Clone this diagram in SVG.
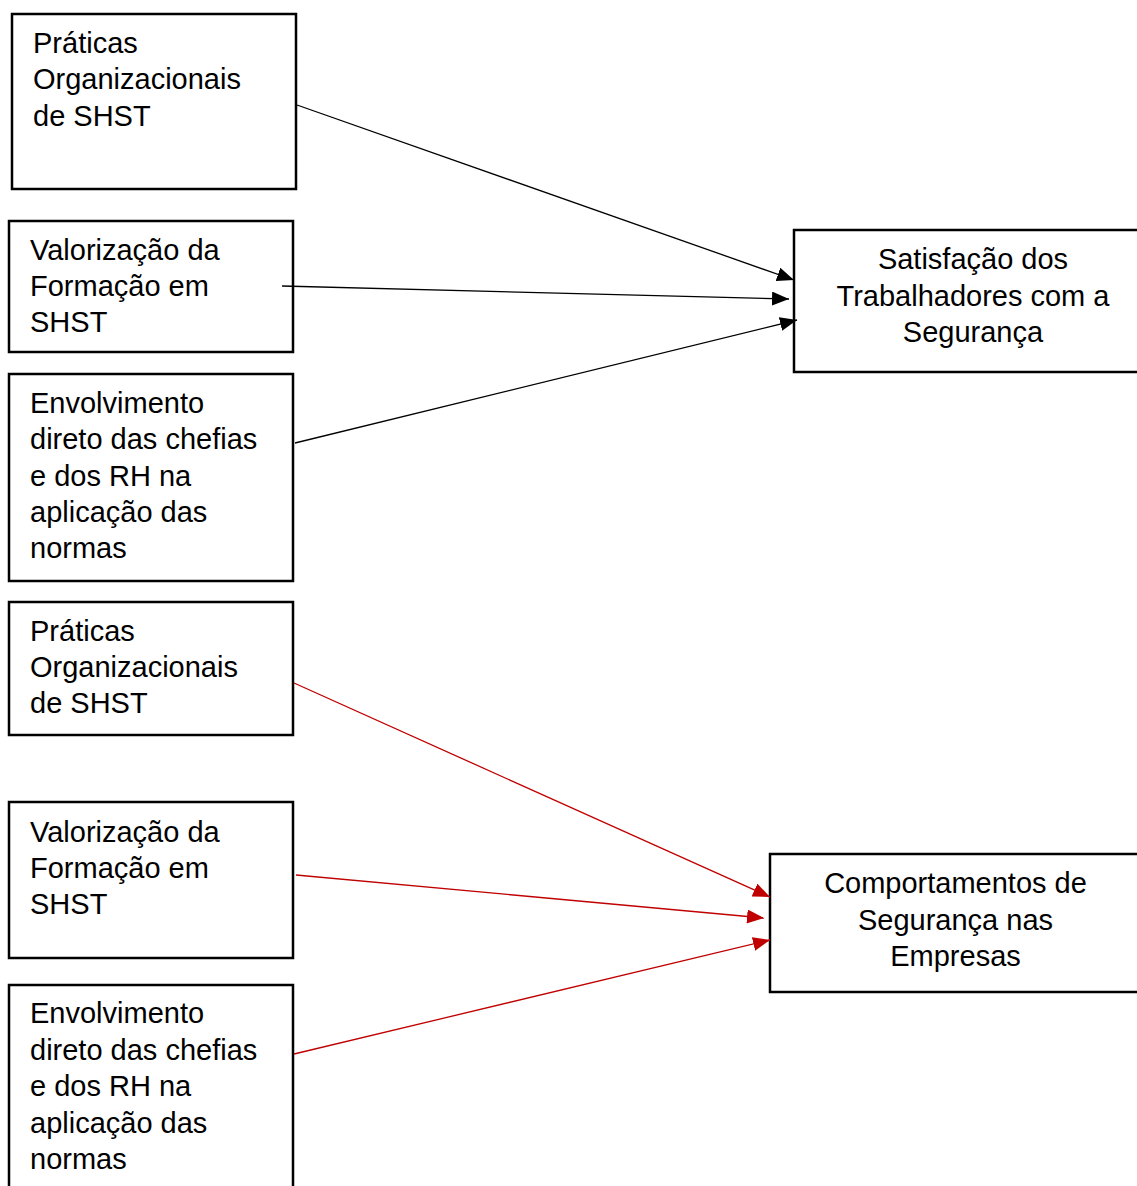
<svg xmlns="http://www.w3.org/2000/svg" width="1137" height="1186" viewBox="0 0 1137 1186">
<style>
.box{fill:#fff;stroke:#000;stroke-width:2.5}
text{font-family:"Liberation Sans",Arial,sans-serif;font-size:29px;fill:#000}
.c{text-anchor:middle}
.k{stroke:#000;stroke-width:1.3;fill:none}
.r{stroke:#C00000;stroke-width:1.3;fill:none}
</style>
<defs>
<marker id="ak" markerUnits="userSpaceOnUse" markerWidth="18" markerHeight="14" refX="17" refY="7" orient="auto"><path d="M0,0 L17,7 L0,14 Z" fill="#000"/></marker>
<marker id="ar" markerUnits="userSpaceOnUse" markerWidth="18" markerHeight="14" refX="17" refY="7" orient="auto"><path d="M0,0 L17,7 L0,14 Z" fill="#C00000"/></marker>
</defs>
<rect width="1137" height="1186" fill="#fff"/>
<g id="n1"><rect class="box" x="12" y="14" width="284" height="175"/><text x="33" y="53">Práticas</text><text x="33" y="89">Organizacionais</text><text x="33" y="126">de SHST</text></g>
<g id="n2"><rect class="box" x="9" y="221" width="284" height="131"/><text x="30" y="260">Valorização da</text><text x="30" y="296">Formação em</text><text x="30" y="332">SHST</text></g>
<g id="n3"><rect class="box" x="9" y="374" width="284" height="207"/><text x="30" y="413">Envolvimento</text><text x="30" y="449">direto das chefias</text><text x="30" y="486">e dos RH na</text><text x="30" y="522">aplicação das</text><text x="30" y="558">normas</text></g>
<g id="n4"><rect class="box" x="9" y="602" width="284" height="133"/><text x="30" y="641">Práticas</text><text x="30" y="677">Organizacionais</text><text x="30" y="713">de SHST</text></g>
<g id="n5"><rect class="box" x="9" y="802" width="284" height="156"/><text x="30" y="842">Valorização da</text><text x="30" y="878">Formação em</text><text x="30" y="914">SHST</text></g>
<g id="n6"><rect class="box" x="9" y="985" width="284" height="210"/><text x="30" y="1023">Envolvimento</text><text x="30" y="1060">direto das chefias</text><text x="30" y="1096">e dos RH na</text><text x="30" y="1133">aplicação das</text><text x="30" y="1169">normas</text></g>
<g id="s1"><rect class="box" x="794" y="230" width="360" height="142"/><text class="c" x="973" y="269">Satisfação dos</text><text class="c" x="973" y="306">Trabalhadores com a</text><text class="c" x="973" y="342">Segurança</text></g>
<g id="s2"><rect class="box" x="770" y="854" width="380" height="138"/><text class="c" x="955.5" y="893">Comportamentos de</text><text class="c" x="955.5" y="930">Segurança nas</text><text class="c" x="955.5" y="966">Empresas</text></g>
<g id="connectors">
<line class="k" x1="297" y1="105" x2="794" y2="280" marker-end="url(#ak)"/>
<line class="k" x1="282" y1="286" x2="789" y2="299" marker-end="url(#ak)"/>
<line class="k" x1="295" y1="443" x2="797" y2="320" marker-end="url(#ak)"/>
<line class="r" x1="294" y1="683" x2="770" y2="897" marker-end="url(#ar)"/>
<line class="r" x1="296" y1="875" x2="764" y2="918" marker-end="url(#ar)"/>
<line class="r" x1="294" y1="1054" x2="770" y2="940" marker-end="url(#ar)"/>
</g>
</svg>
